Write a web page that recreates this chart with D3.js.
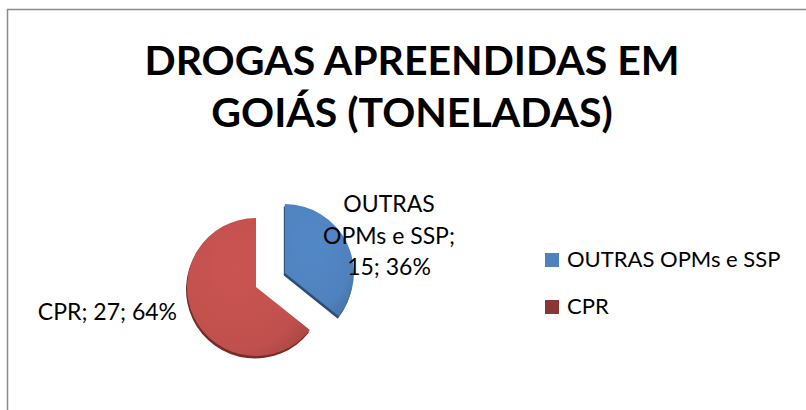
<!DOCTYPE html>
<html>
<head>
<meta charset="utf-8">
<script src="https://cdn.jsdelivr.net/npm/d3@7"></script>
<style>
    body { margin: 0; background: #fff; }
    svg { display: block; font-family: Lato, "Open Sans", sans-serif; }
</style>
</head>
<body>
<svg class="chart" width="806" height="410"></svg>
<script>
let title_lines = ["DROGAS APREENDIDAS EM", "GOIÁS (TONELADAS)"]
let categories = ["OUTRAS OPMs e SSP", "CPR"]
let values = [15, 27]
let percents = ["36%", "64%"]
let colors = ["#4f81bd", "#c0504d"]
let rim_colors = ["#2c4d75", "#772c2a"]
let legend_colors = ["#4f81bd", "#8a3634"]

let width = 806
let height = 410

let cx = 256
let cy = 287
let radius = 69
let explode = [32, 0]

let svg = d3.select(".chart")

function draw_frame() {
    svg.append("path")
        .attr("d", "M7.5," + height + "V9.5H" + width)
        .attr("fill", "none")
        .attr("stroke", "#8c8c8c")
        .attr("stroke-width", 1.5)
}

function draw_title() {
    svg.append("g")
        .selectAll("text")
        .data(title_lines)
        .enter().append("text")
        .attr("x", 412)
        .attr("y", (d, i) => 75 + i * 52)
        .attr("text-anchor", "middle")
        .attr("font-size", 41)
        .attr("font-weight", "bold")
        .attr("fill", "#000")
        .text(d => d)
}

function draw_pie() {
    let defs = svg.append("defs")
    colors.forEach((c, i) => {
        let g = defs.append("radialGradient")
            .attr("id", "grad" + i)
            .attr("cx", "40%").attr("cy", "35%").attr("r", "75%")
        g.append("stop").attr("offset", "0%").attr("stop-color", d3.color(c).brighter(0.15))
        g.append("stop").attr("offset", "80%").attr("stop-color", c)
        g.append("stop").attr("offset", "100%").attr("stop-color", d3.color(c).darker(0.3))
    })

    let pie = d3.pie().sort(null).value(d => d)
    let arc = d3.arc().innerRadius(0).outerRadius(radius)
    let arcs = pie(values)

    let shift = (d, i) => {
        let mid = (d.startAngle + d.endAngle) / 2
        return [Math.sin(mid) * explode[i], -Math.cos(mid) * explode[i]]
    }

    let slices = svg.append("g")
        .attr("transform", "translate(" + cx + "," + cy + ")")
        .selectAll("g.slice")
        .data(arcs)
        .enter().append("g")
        .classed("slice", true)
        .attr("transform", (d, i) => "translate(" + shift(d, i) + ")")

    // dark rim underneath, gives the slight bevel look
    slices.append("path")
        .attr("d", arc)
        .attr("transform", "translate(-1,2.5)")
        .attr("fill", (d, i) => rim_colors[i])

    slices.append("path")
        .attr("d", arc)
        .attr("fill", (d, i) => "url(#grad" + i + ")")

    // data labels
    svg.append("text")
        .attr("text-anchor", "middle")
        .attr("font-size", 23)
        .selectAll("tspan")
        .data(["OUTRAS", "OPMs e SSP;", values[0] + "; " + percents[0]])
        .enter().append("tspan")
        .attr("x", cx + 133)
        .attr("y", (d, i) => cy - 75 + i * 31.5)
        .text(d => d)

    svg.append("text")
        .attr("x", cx - 79)
        .attr("y", cy + 33)
        .attr("text-anchor", "end")
        .attr("font-size", 23)
        .text(categories[1] + "; " + values[1] + "; " + percents[1])
}

function draw_legend() {
    let items = svg.append("g")
        .selectAll("g")
        .data(categories)
        .enter().append("g")
        .attr("transform", (d, i) => "translate(545," + (253 + i * 47) + ")")

    items.append("rect")
        .attr("width", 14)
        .attr("height", 14)
        .attr("fill", (d, i) => legend_colors[i])

    items.append("text")
        .attr("x", 22)
        .attr("y", 14)
        .attr("font-size", 22)
        .text(d => d)
}

function init() {
    draw_frame()
    draw_title()
    draw_pie()
    draw_legend()
}

init()
</script>
</body>
</html>
